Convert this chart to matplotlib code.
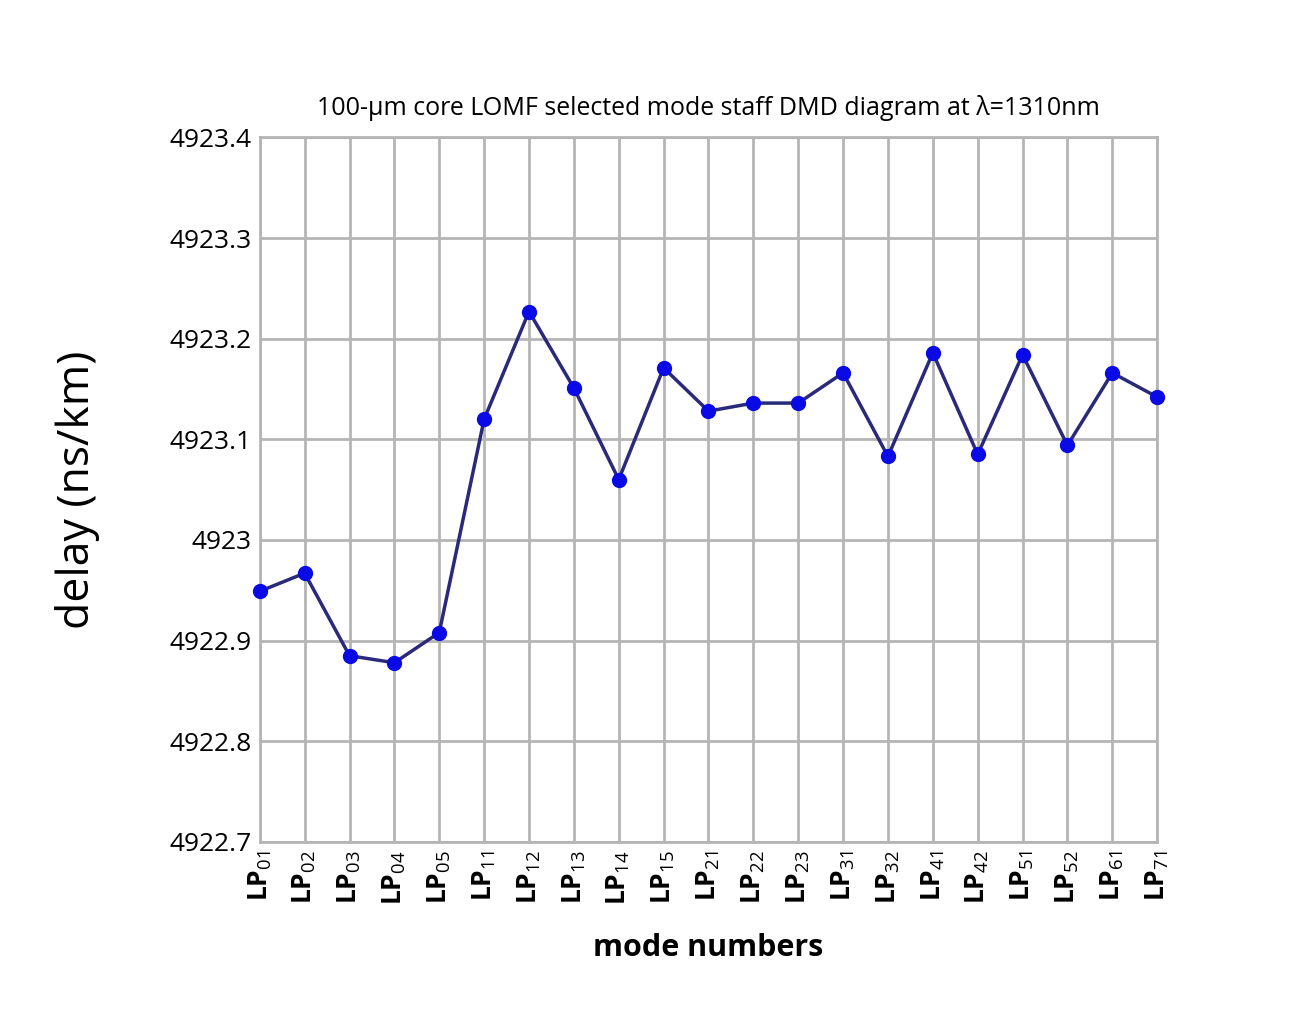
import matplotlib
matplotlib.use("Agg")
import matplotlib.pyplot as plt

modes = ["01","02","03","04","05","11","12","13","14","15","21","22","23","31","32","41","42","51","52","61","71"]
delay = [4922.949,4922.967,4922.885,4922.878,4922.908,4923.120,4923.227,4923.151,4923.060,4923.171,
         4923.128,4923.136,4923.136,4923.166,4923.083,4923.186,4923.085,4923.184,4923.094,4923.166,4923.142]
yticks = [4922.7,4922.8,4922.9,4923.0,4923.1,4923.2,4923.3,4923.4]
ytick_labels = ["4922.7","4922.8","4922.9","4923","4923.1","4923.2","4923.3","4923.4"]

plt.rcParams["font.family"] = "Open Sans"
plt.rcParams["mathtext.fontset"] = "custom"
plt.rcParams["mathtext.rm"] = "Open Sans"
fig = plt.figure(figsize=(13.12,10.33), dpi=100)
ax = fig.add_axes([0.198,0.185,0.684,0.682])
x = list(range(len(modes)))
ax.plot(x, delay, color="#2a2a7a", lw=2.5, marker="o", ms=10, mfc="#0a0ae6", mec="#0a0ae6", clip_on=False, zorder=3)
ax.set_xlim(0, len(modes)-1)
ax.set_ylim(4922.7, 4923.4)
ax.set_yticks(yticks)
ax.set_yticklabels(ytick_labels, fontsize=19)
ax.set_xticks(x)
ax.set_xticklabels([r"LP$_{\mathrm{%s}}$" % m for m in modes], rotation=90, fontsize=19, fontweight="bold")
ax.grid(True, color="#b5b5b5", lw=2)
for s in ax.spines.values():
    s.set_color("#b5b5b5"); s.set_linewidth(2)
ax.tick_params(length=0, pad=6)
ax.set_axisbelow(True)
ax.set_title("100-µm core LOMF selected mode staff DMD diagram at λ=1310nm", fontsize=18, pad=16)
ax.set_xlabel("mode numbers", fontsize=22, fontweight="bold", labelpad=20)
ax.set_ylabel("delay (ns/km)", fontsize=32, labelpad=50)
fig.savefig("out.png")
